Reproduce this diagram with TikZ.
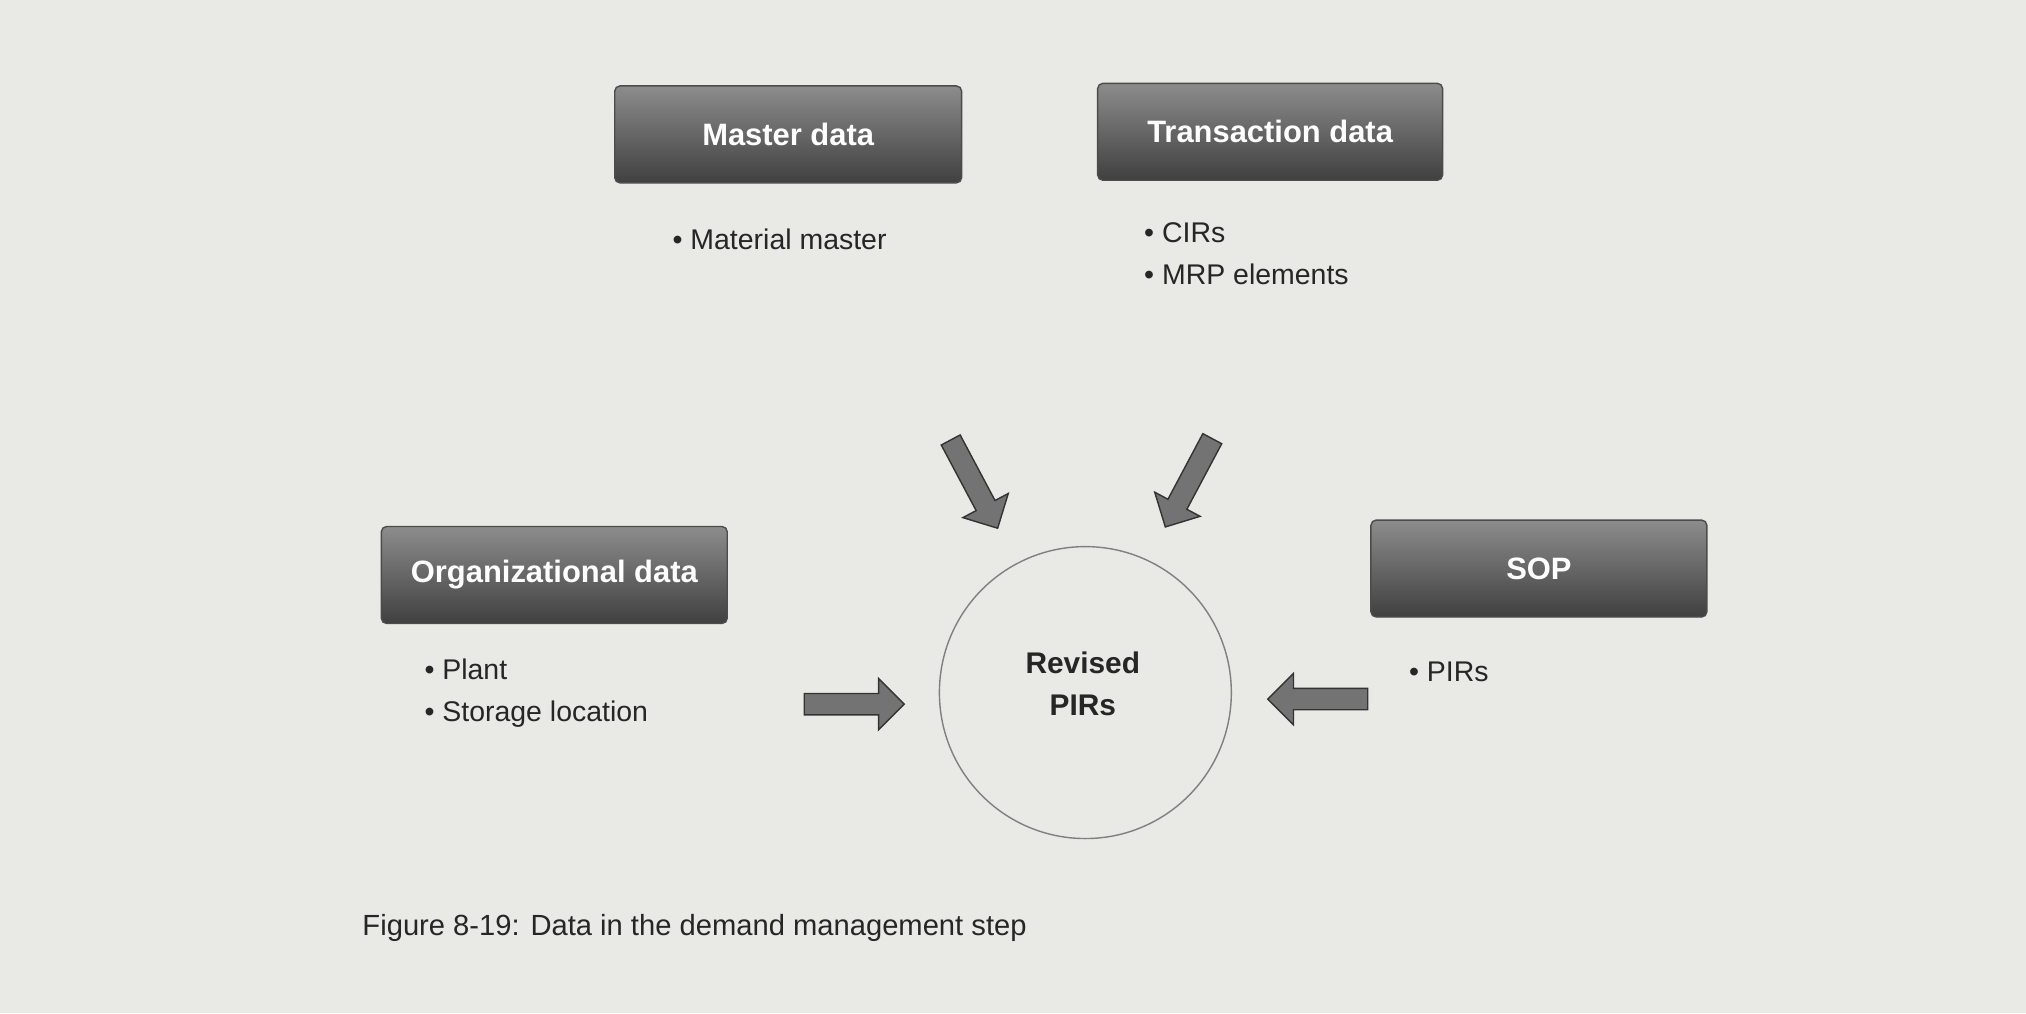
\documentclass[tikz,border=0pt]{standalone}
\usepackage{fontspec}
\setmainfont{Liberation Sans}
\usetikzlibrary{shapes.arrows}
\definecolor{paper}{HTML}{E9E9E6}
\tikzset{
 hdr/.style={draw=black!70,rounded corners=1.5pt,top color=black!45,bottom color=black!75,text=white,font=\fontsize{8.8}{11}\selectfont\bfseries,minimum height=0.97cm,inner sep=0pt},
 txt/.style={font=\fontsize{8.1}{12}\selectfont,text=black!85,align=left,inner sep=0pt},
 barrow/.style={single arrow,draw=black!80,fill=black!55,minimum height=1.0cm,inner sep=0.1cm,single arrow head extend=0.15cm,single arrow tip angle=90}
}
\begin{document}
\begin{tikzpicture}[x=0.01292cm,y=-0.01292cm]
\useasboundingbox (0,0) rectangle (1568,784);
\fill[paper] (0,0) rectangle (1568,784);
\node[hdr,minimum width=3.47cm] (md) at (610,104) {Master data};
\node[hdr,minimum width=3.45cm] (td) at (983,102) {Transaction data};
\node[hdr,minimum width=3.46cm] (od) at (429,445) {Organizational data};
\node[hdr,minimum width=3.36cm] (sop) at (1191,440) {SOP};
\node[txt,anchor=west] (mdt) at (520,185) {• Material master};
\node[txt,anchor=north west] (tdt) at (885,172) {• CIRs\\• MRP elements};
\node[txt,anchor=north west] (odt) at (328,509) {• Plant\\• Storage location};
\node[txt,anchor=west] (sopt) at (1090,520) {• PIRs};
\node[circle,draw=black!50,line width=0.4pt,minimum size=2.92cm] (c) at (840,536) {};
\node[font=\fontsize{8.5}{12}\selectfont\bfseries,align=center,text=black!85] (rp) at (838,529) {Revised\\PIRs};
\node[barrow,rotate=-62] (a1) at (752,371) {};
\node[barrow,rotate=-118] (a2) at (922,370) {};
\node[barrow] (a3) at (657,545) {};
\node[barrow,rotate=180] (a4) at (1024,541) {};
\node[txt,anchor=west,font=\fontsize{8.3}{11}\selectfont] (cap) at (280,718) {Figure 8-19: Data in the demand management step};
\end{tikzpicture}
\end{document}
